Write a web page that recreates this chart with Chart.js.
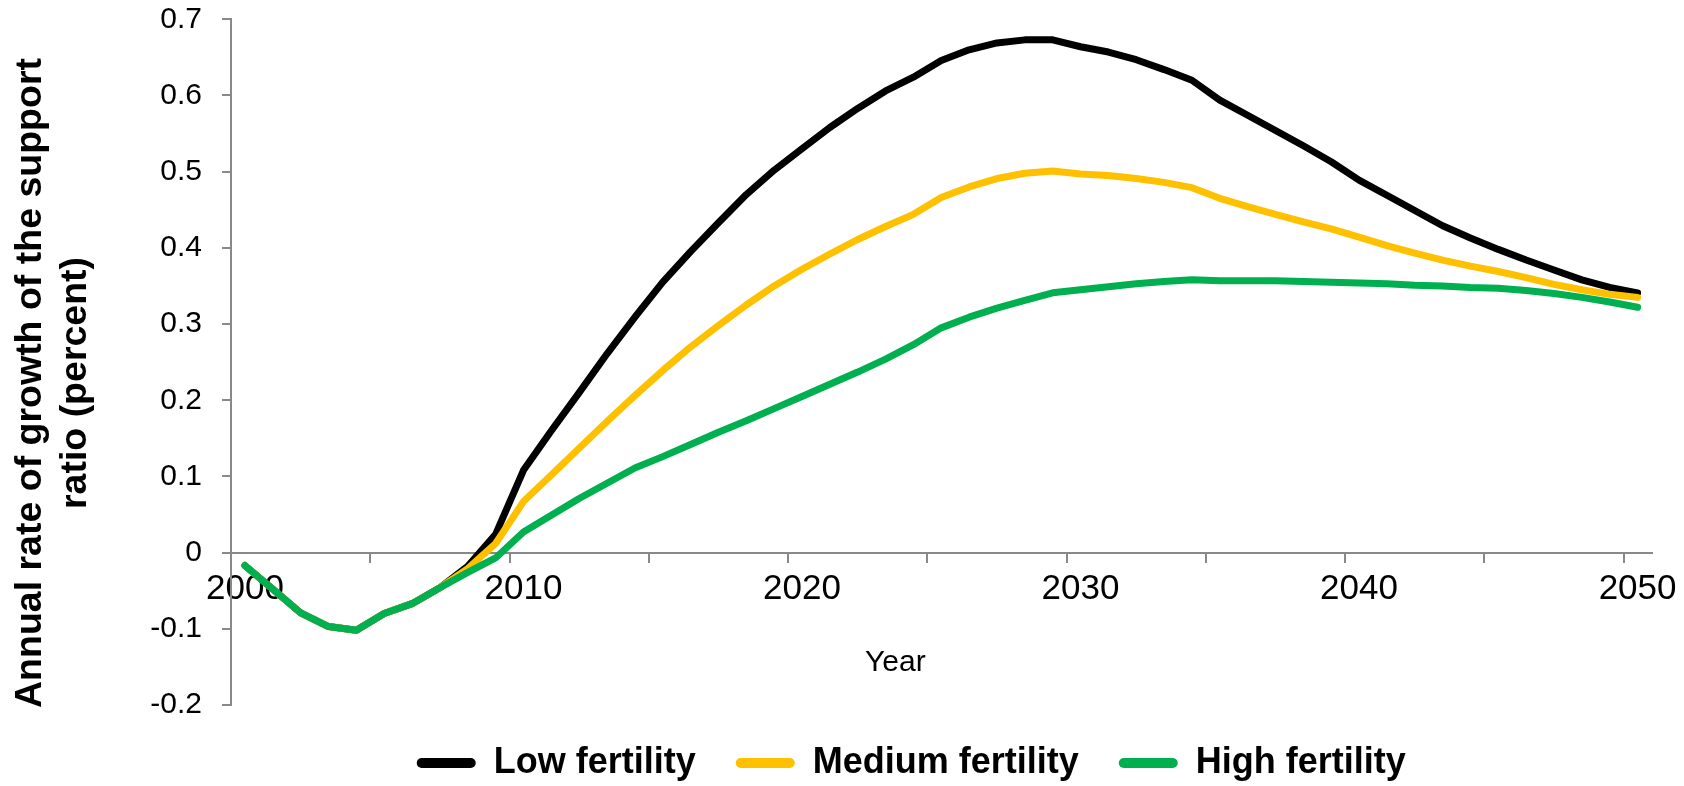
<!DOCTYPE html>
<html>
<head>
<meta charset="utf-8">
<title>Support ratio growth</title>
<script src="https://cdn.jsdelivr.net/npm/chart.js@4.4.1/dist/chart.umd.min.js"></script>
<style>
  html, body { margin: 0; padding: 0; background: #fff; }
  #wrap { width: 1684px; height: 786px; }
</style>
</head>
<body>
<div id="wrap"><canvas id="supportChart" width="1684" height="786"></canvas></div>
<script>
// categories: one per year
const years = [
  2000, 2001, 2002, 2003, 2004, 2005, 2006, 2007, 2008, 2009,
  2010, 2011, 2012, 2013, 2014, 2015, 2016, 2017, 2018, 2019,
  2020, 2021, 2022, 2023, 2024, 2025, 2026, 2027, 2028, 2029,
  2030, 2031, 2032, 2033, 2034, 2035, 2036, 2037, 2038, 2039,
  2040, 2041, 2042, 2043, 2044, 2045, 2046, 2047, 2048, 2049,
  2050
];
// only these years get a label under the axis
const labelledYears = [2000, 2010, 2020, 2030, 2040, 2050];

// annual rate of growth of the support ratio (percent)
const lowFertility = [
  -0.017, -0.048, -0.079, -0.097, -0.102, -0.080, -0.067, -0.046, -0.018, 0.024,
  0.108, 0.160, 0.210, 0.261, 0.309, 0.355, 0.395, 0.433, 0.470, 0.502,
  0.530, 0.558, 0.583, 0.606, 0.624, 0.646, 0.660, 0.669, 0.673, 0.673,
  0.664, 0.657, 0.647, 0.634, 0.620, 0.594, 0.574, 0.554, 0.534, 0.513,
  0.489, 0.469, 0.449, 0.429, 0.413, 0.398, 0.384, 0.371, 0.358, 0.348,
  0.341
];
const mediumFertility = [
  -0.017, -0.048, -0.079, -0.097, -0.102, -0.080, -0.067, -0.046, -0.021, 0.012,
  0.067, 0.102, 0.137, 0.172, 0.206, 0.239, 0.270, 0.298, 0.325, 0.350,
  0.372, 0.392, 0.411, 0.428, 0.444, 0.466, 0.480, 0.491, 0.498, 0.501,
  0.497, 0.495, 0.491, 0.486, 0.479, 0.465, 0.454, 0.444, 0.434, 0.425,
  0.414, 0.403, 0.393, 0.384, 0.376, 0.369, 0.361, 0.352, 0.345, 0.339,
  0.335
];
const highFertility = [
  -0.017, -0.048, -0.079, -0.097, -0.102, -0.080, -0.067, -0.046, -0.026, -0.007,
  0.027, 0.049, 0.071, 0.091, 0.111, 0.126, 0.142, 0.158, 0.173, 0.189,
  0.205, 0.221, 0.237, 0.254, 0.273, 0.295, 0.309, 0.321, 0.331, 0.341,
  0.345, 0.349, 0.353, 0.356, 0.358, 0.357, 0.357, 0.357, 0.356, 0.355,
  0.354, 0.353, 0.351, 0.350, 0.348, 0.347, 0.344, 0.340, 0.335, 0.329,
  0.322
];

const axisGrey = '#898989';
Chart.defaults.font.family = '"Liberation Sans", Arial, Helvetica, sans-serif';
Chart.defaults.color = '#000';

function series(label, data, color, order){
  return {
    label, data, order,
    borderColor: color, backgroundColor: color,
    borderWidth: 7, pointRadius: 0, pointHoverRadius: 0, tension: 0,
    borderCapStyle: 'round', borderJoinStyle: 'round', fill: false
  };
}

new Chart(document.getElementById('supportChart'), {
  type: 'line',
  data: {
    labels: years.map(String),
    datasets: [
      series('Low fertility', lowFertility, '#000000', 3),
      series('Medium fertility', mediumFertility, '#FFC000', 2),
      series('High fertility', highFertility, '#00B050', 1)
    ]
  },
  options: {
    responsive: false,
    animation: false,
    devicePixelRatio: 1,
    events: [],
    layout: { padding: { top: 0, right: 32.5, bottom: -5, left: 0 } },
    plugins: {
      tooltip: { enabled: false },
      legend: {
        position: 'bottom',
        fullSize: false,
        labels: {
          font: { size: 36, weight: 'bold' },
          color: '#000',
          boxWidth: 59,
          boxHeight: 10,
          useBorderRadius: true,
          borderRadius: 5,
          padding: 40,
          sort: (a, b) => a.datasetIndex - b.datasetIndex,
          // no outline on the swatches; trailing room on the last item nudges the row left
          generateLabels: chart => {
            const last = chart.data.datasets.length - 1;
            return Chart.defaults.plugins.legend.labels.generateLabels(chart)
              .map(item => Object.assign(item, {
                lineWidth: 0,
                text: item.datasetIndex === last ? item.text + '      ' : item.text
              }));
          }
        }
      }
    },
    scales: {
      x: {
        type: 'category',
        position: { y: 0 },
        offset: true,
        border: { color: axisGrey, width: 2 },
        grid: {
          offset: true,
          drawOnChartArea: false,
          tickLength: 9,
          lineWidth: 2,
          tickWidth: 2,
          tickColor: c => (c.index % 5 === 0 ? axisGrey : 'rgba(0,0,0,0)')
        },
        ticks: {
          autoSkip: false, maxRotation: 0, minRotation: 0, padding: 7,
          font: { size: 35 }, color: '#000',
          callback: (v, i) => (labelledYears.includes(years[i]) ? String(years[i]) : '')
        },
        title: {
          display: true,
          text: 'Year           ',
          font: { size: 30 }, color: '#000',
          padding: { top: 27, bottom: 0 }
        }
      },
      y: {
        min: -0.2,
        max: 0.7,
        afterFit: s => { s.width = 231; s.paddingTop = 19.3; },
        border: { color: axisGrey, width: 2 },
        grid: { drawOnChartArea: false, tickLength: 9, lineWidth: 2, tickWidth: 2, tickColor: axisGrey },
        ticks: {
          stepSize: 0.1, padding: 20,
          font: { size: 30 }, color: '#000',
          callback: v => String(Math.round(v * 10) / 10)
        },
        title: {
          display: true,
          text: ['Annual rate of growth of the support    ', 'ratio (percent)    '],
          font: { size: 37.5, weight: 'bold', lineHeight: 1.2 }, color: '#000',
          padding: { top: 8, bottom: 0 }
        }
      }
    }
  }
});
</script>
</body>
</html>
